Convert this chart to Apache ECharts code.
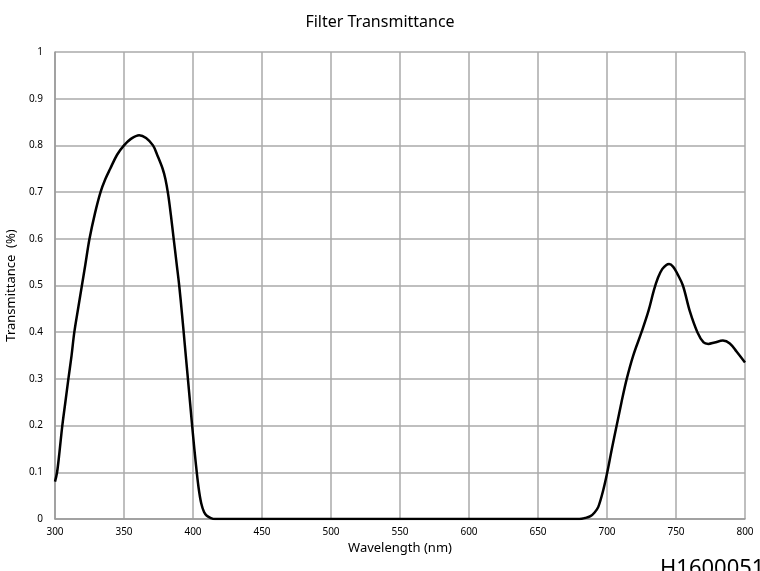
<!DOCTYPE html>
<html><head><meta charset="utf-8">
<script src="https://cdn.jsdelivr.net/npm/echarts@6/dist/echarts.min.js"></script>
<style>html,body{margin:0;padding:0;background:#fff}#c{width:760px;height:571px}</style>
</head><body><div id="c"></div>
<script>
var wavelengths = [300,301.5,303.3,305.3,307.5,309.7,312,314,317,319.5,322,325,329,333,336.5,340,345,350,355,361,366,371,374,378,380,382,384,386,388,390,392,394,396,398,400,402,404,406,408,410,413,416,420,500,600,680,684,688,691,693.7,697.3,700.2,703.5,707,710.5,714.3,719,725,730,734,737,740,743,745,748,751,755,760,765.5,770,773.4,778,784,789,794,800];
var transmittance = [0.08,0.1,0.145,0.2,0.25,0.3,0.35,0.4,0.455,0.5,0.545,0.6,0.655,0.7,0.728,0.75,0.78,0.8,0.814,0.822,0.816,0.8,0.78,0.75,0.728,0.695,0.65,0.6,0.55,0.5,0.44,0.375,0.31,0.245,0.18,0.12,0.068,0.033,0.015,0.007,0.002,0,0,0,0,0,0.002,0.006,0.014,0.026,0.062,0.1,0.15,0.2,0.25,0.3,0.35,0.4,0.445,0.49,0.517,0.535,0.544,0.546,0.54,0.525,0.5,0.445,0.4,0.378,0.375,0.378,0.382,0.376,0.358,0.335];
var xTicks = {min:300,max:800,interval:50};
var yTicks = {min:0,max:1,interval:0.1};
var titleText = 'Filter Transmittance';
var xName = 'Wavelength (nm)';
var yName = 'Transmittance  (%)';
var codeText = 'H1600051';

var data = wavelengths.map(function(w,i){return [w,transmittance[i]];});
var ff = 'Noto Sans';
var chart = echarts.init(document.getElementById('c'));
chart.setOption({
  animation:false,
  title:{text:titleText,left:'center',top:9,textStyle:{fontFamily:ff,fontSize:16,fontWeight:'normal',color:'#000'}},
  grid:{left:55,right:15,top:52,bottom:52,containLabel:false,outerBoundsMode:'none'},
  xAxis:{type:'value',min:xTicks.min,max:xTicks.max,interval:xTicks.interval,
    name:xName,nameLocation:'middle',nameGap:20,nameTextStyle:{fontFamily:ff,fontSize:13,color:'#000'},
    axisLine:{lineStyle:{color:'#999',width:1.5}},axisTick:{show:false},
    axisLabel:{fontFamily:ff,fontSize:10,color:'#000',margin:8},
    splitLine:{show:true,lineStyle:{color:'#aaa',width:1.5}}},
  yAxis:{type:'value',min:yTicks.min,max:yTicks.max,interval:yTicks.interval,
    name:yName,nameLocation:'middle',nameGap:32,nameTextStyle:{fontFamily:ff,fontSize:13,color:'#000'},
    axisLine:{show:true,lineStyle:{color:'#999',width:1.5}},axisTick:{show:false},
    axisLabel:{fontFamily:ff,fontSize:10,color:'#000',margin:12},
    splitLine:{show:true,lineStyle:{color:'#aaa',width:1.5}}},
  graphic:[{type:'text',left:660,top:558,style:{text:codeText,font:'22px "Noto Sans"',fill:'#000'}}],
  series:[{type:'line',data:data,showSymbol:false,smooth:0.35,
    lineStyle:{color:'#000',width:2.5}}]
});
</script></body></html>
